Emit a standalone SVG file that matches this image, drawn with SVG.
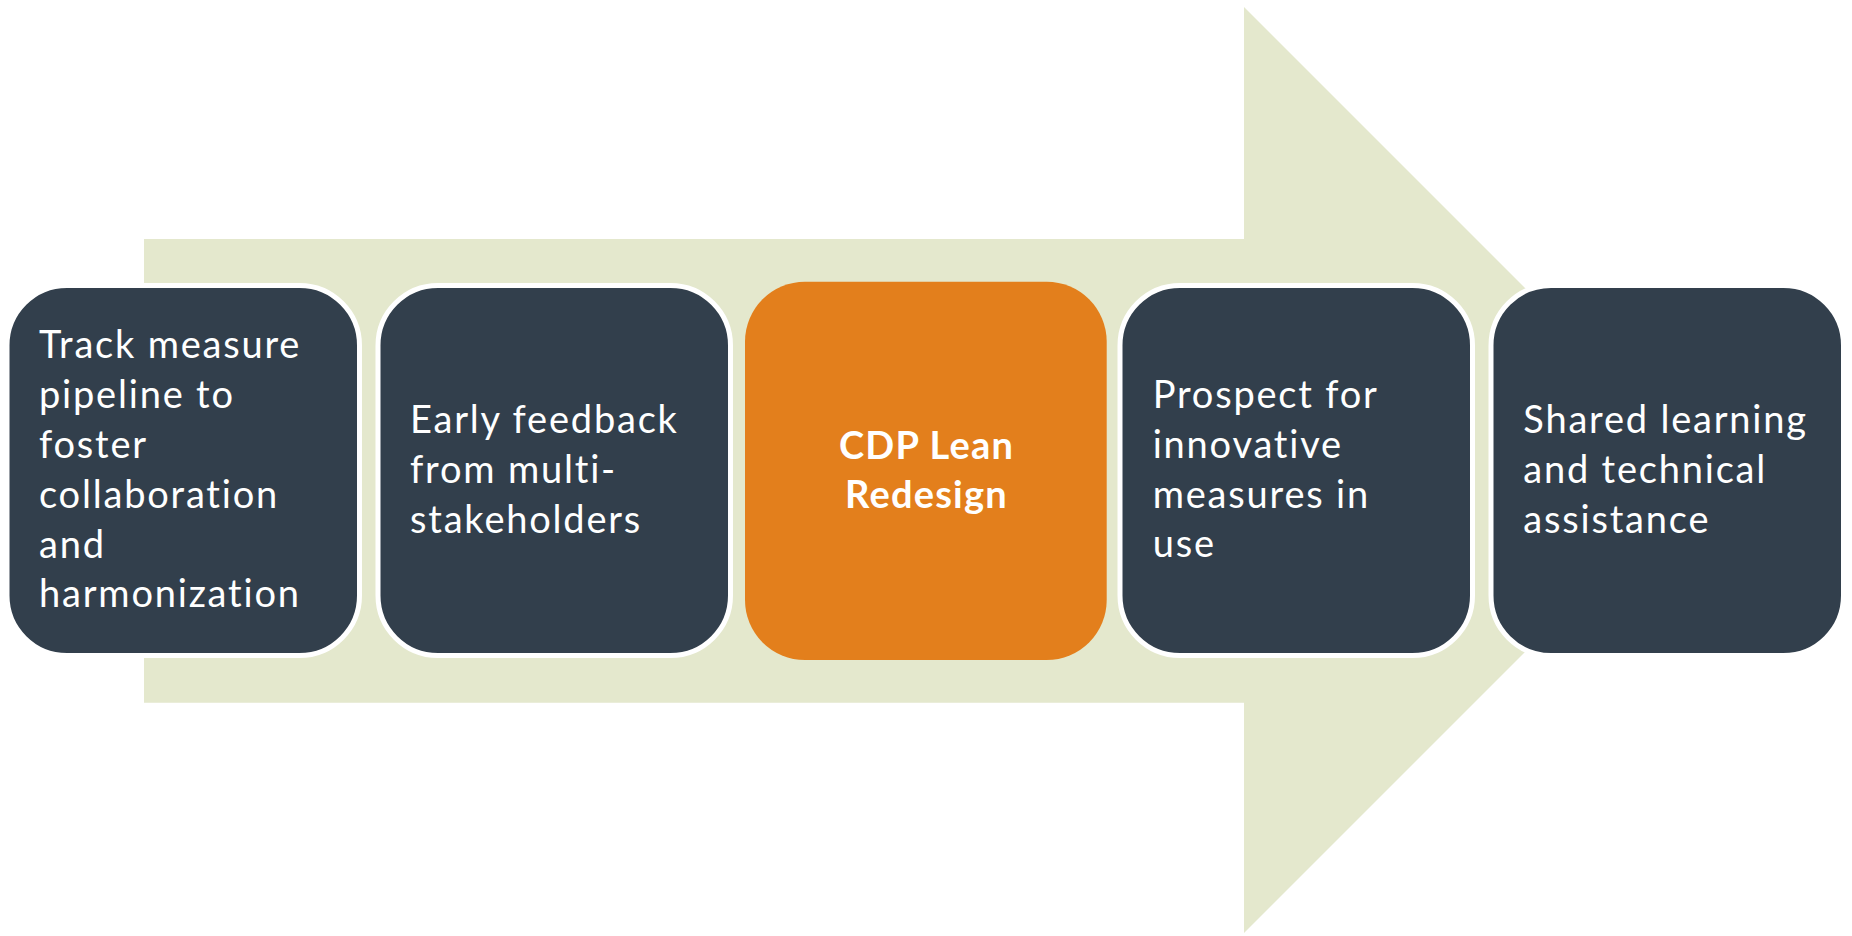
<svg xmlns="http://www.w3.org/2000/svg" width="1852" height="936" viewBox="0 0 1852 936">
<style>
.box{fill:#323F4C;stroke:#FFFFFF;stroke-width:5}
.hl{fill:#E37F1C}
.t{font-family:Lato,"Open Sans","Liberation Sans",sans-serif;font-size:38px;letter-spacing:1.8px;fill:#FFFFFF}
.tb{font-family:Lato,"Open Sans","Liberation Sans",sans-serif;font-size:38px;letter-spacing:1.2px;font-weight:bold;fill:#FFFFFF;text-anchor:middle}
</style>
<rect width="1852" height="936" fill="#FFFFFF"/>
<g id="arrow">
<polygon points="144,239 1244,239 1244,7 1707,470 1244,933 1244,702.7 144,702.7" fill="#E4E8CD"/>
</g>
<g id="connectors"></g>
<g id="node1">
<rect class="box" x="7" y="285.5" width="352.5" height="370" rx="60"/>
<text class="t" x="39" y="358.3">Track measure</text>
<text class="t" x="39" y="408.3">pipeline to</text>
<text class="t" x="39" y="458.3">foster</text>
<text class="t" x="39" y="508.3">collaboration</text>
<text class="t" x="39" y="557.5">and</text>
<text class="t" x="39" y="606.7">harmonization</text>
</g>
<g id="node2">
<rect class="box" x="378" y="285.5" width="352.5" height="370" rx="60"/>
<text class="t" x="410" y="433.3">Early feedback</text>
<text class="t" x="410" y="482.7">from multi-</text>
<text class="t" x="410" y="532.7">stakeholders</text>
</g>
<g id="node3">
<rect class="hl" x="745" y="281.7" width="361.7" height="378.3" rx="60"/>
<text class="tb" x="926.5" y="459">CDP Lean</text>
<text class="tb" x="926.5" y="508">Redesign</text>
</g>
<g id="node4">
<rect class="box" x="1120" y="285.5" width="352.5" height="370" rx="60"/>
<text class="t" x="1152.7" y="408.3">Prospect for</text>
<text class="t" x="1152.7" y="458.3">innovative</text>
<text class="t" x="1152.7" y="508.3">measures in</text>
<text class="t" x="1152.7" y="556.7">use</text>
</g>
<g id="node5">
<rect class="box" x="1491" y="285.5" width="352.5" height="370" rx="60"/>
<text class="t" x="1523.3" y="433.3">Shared learning</text>
<text class="t" x="1523.3" y="482.7">and technical</text>
<text class="t" x="1523.3" y="532.7">assistance</text>
</g>
</svg>
